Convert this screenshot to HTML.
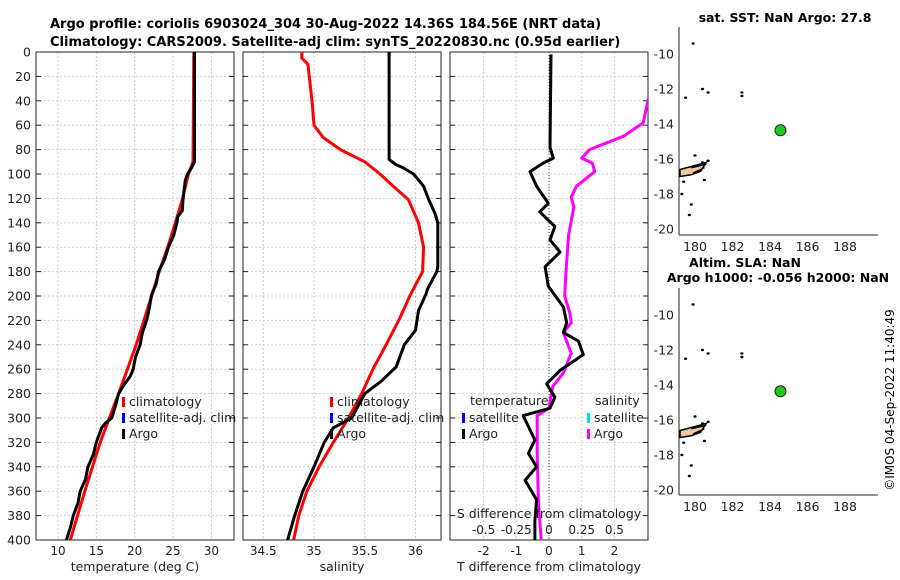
<!DOCTYPE html>
<html><head><meta charset="utf-8"><style>
body{margin:0;background:#fff}
svg{display:block;font-family:"DejaVu Sans","Liberation Sans",sans-serif}
</style></head><body>
<svg id="chart" width="900" height="580" viewBox="0 0 900 580" xmlns="http://www.w3.org/2000/svg">
<rect width="900" height="580" fill="#fff"/>
<text x="50" y="28" font-size="13" font-weight="bold">Argo profile: coriolis 6903024_304 30-Aug-2022 14.36S 184.56E (NRT data)</text>
<text x="50" y="46" font-size="13" font-weight="bold">Climatology: CARS2009. Satellite-adj clim: synTS_20220830.nc (0.95d earlier)</text>
<defs>
<clipPath id="c1"><rect x="36" y="52" width="198" height="488"/></clipPath>
<clipPath id="c2"><rect x="243" y="52" width="198" height="488"/></clipPath>
<clipPath id="c3"><rect x="450" y="52" width="198" height="488"/></clipPath>
</defs>
<g id="g"></g>
<text transform="translate(894,400) rotate(-90)" text-anchor="middle" font-size="12">©IMOS 04-Sep-2022 11:40:49</text>
</svg>
<script>
// ---- data ----
const depthTicks=[0,20,40,60,80,100,120,140,160,180,200,220,240,260,280,300,320,340,360,380,400];
const tempTicks=[10,15,20,25,30];
const salTicks=[34.5,35,35.5,36];
const tdiffTicks=[-2,-1,0,1,2];
const sdiffTickLabels=["-0.5","-0.25","0","0.25","0.5"];
const sdiffTicks=[-0.5,-0.25,0,0.25,0.5];
const argoTempDepth=[0,90,95,100,105,121,130,135,140,150,160,170,180,190,199,210,219,230,240,250,260,266,272,280,290,300,304,308,320,330,340,350,360,370,380,390,400];
const argoTemp=[27.8,27.8,27.4,26.9,26.6,26.3,26.2,25.6,25.5,25.1,24.4,23.9,23.1,22.8,22.2,21.9,21.6,21.0,20.7,20.1,19.8,19.4,18.7,17.9,17.5,17.0,16.2,15.7,15.0,14.6,13.9,13.6,12.9,12.6,12.0,11.6,11.1];
const climTempDepth=[0,90,100,121,140,160,180,200,240,280,320,360,400];
const climTemp=[27.7,27.6,27.0,26.2,25.3,24.3,23.2,22.2,20.2,17.9,15.5,13.5,11.6];
const argoSalDepth=[0,88,92,95,100,110,121,132,140,176,180,194,199,212,228,240,258,270,280,300,308,320,340,360,380,400];
const argoSal=[35.74,35.74,35.8,35.88,35.98,36.08,36.13,36.19,36.22,36.22,36.21,36.12,36.1,36.03,36.0,35.89,35.81,35.66,35.5,35.37,35.19,35.1,35.0,34.89,34.81,34.74];
const climSalDepth=[0,5,10,40,60,70,80,90,100,110,121,140,160,180,199,219,240,260,280,300,320,340,360,380,400];
const climSal=[34.88,34.88,34.94,34.98,35.0,35.09,35.26,35.5,35.65,35.78,35.93,36.03,36.08,36.07,35.95,35.84,35.71,35.58,35.47,35.34,35.19,35.05,34.93,34.85,34.8];
const tDiffDepth=[2,78,87,91,98,110,124,131,143,154,164,176,192,209,222,230,237,248,261,272,283,292,298,307,318,329,340,351,367,384,400];
const tDiff=[0.06,0.03,0.13,-0.17,-0.58,-0.38,-0.02,-0.28,0.18,0.03,0.34,-0.12,-0.02,0.44,0.54,0.44,0.9,1.05,0.34,-0.07,0.18,0.03,-0.79,-0.63,-0.43,-0.63,-0.38,-0.73,-0.38,-0.43,-0.43];
const sDiffDepth=[0,20,38,58,69,80,87,91,98,110,119,127,150,180,200,214,222,230,247,263,274,285,292,298,330,370,400];
const sDiff=[0.86,0.84,0.76,0.72,0.57,0.31,0.25,0.33,0.35,0.21,0.17,0.19,0.15,0.13,0.12,0.16,0.17,0.11,0.17,0.11,0.03,0.01,0,-0.09,-0.09,-0.08,-0.06];
const mapLatTicks=[-10,-12,-14,-16,-18,-20];
const mapLonTicks=[180,182,184,186,188];
const floatLon=184.56, floatLat=-14.36;
const islands=[[179.9,-9.4],[179.5,-12.5],[180.4,-12.0],[180.7,-12.2],[182.5,-12.4],[182.5,-12.2],[180.0,-15.8],[180.4,-16.2],[180.7,-16.1],[180.5,-17.2],[179.4,-17.3],[179.3,-18.0],[179.8,-18.6],[179.7,-19.2]];

// ---- scales ----
const NS="http://www.w3.org/2000/svg";
const G=document.getElementById('g');
function el(t,a,p){const e=document.createElementNS(NS,t);for(const k in a)e.setAttribute(k,a[k]);(p||G).appendChild(e);return e;}
const yD=d=>52+d*1.22;
const xT=v=>58+(v-10)*7.67;
const xS=v=>314+(v-35)*101.5;
const xD=v=>549+v*32.7;
const xSD=v=>549+v*130.8;
const lonX=l=>695+(l-180)*18.75;
const latY=(l,top)=>top+(-10-l)*17.5;

function panel(x0,ticks,xf,name,label){
  const g=el('g',{});
  
  
  depthTicks.forEach(d=>{const l=el('line',{x1:x0,x2:x0+198,y1:yD(d),y2:yD(d),stroke:'#c5cde6','stroke-dasharray':'2,2','stroke-width':1},g);
    
    el('line',{x1:x0,x2:x0+5,y1:yD(d),y2:yD(d),stroke:'#222'},g);el('line',{x1:x0+193,x2:x0+198,y1:yD(d),y2:yD(d),stroke:'#222'},g);});
  ticks.forEach(v=>{const l=el('line',{x1:xf(v),x2:xf(v),y1:52,y2:540,stroke:'#e0c9b8','stroke-dasharray':'2,2'},g);
    
    const t=el('text',{x:xf(v),y:555,'text-anchor':'middle','font-size':12,fill:'#222'},g);t.textContent=v;
    });
  el('rect',{x:x0,y:52,width:198,height:488,fill:'none',stroke:'#222','stroke-width':1},g);
  const t=el('text',{x:x0+99,y:571,'text-anchor':'middle','font-size':12.5,fill:'#222'},g);t.textContent=label;
  
  return g;
}
function line(xs,ds,xf,color,clip,name,w){
  const p=el('path',{d:xs.map((v,i)=>(i?'L':'M')+xf(v).toFixed(1)+','+yD(ds[i]).toFixed(1)).join(''),fill:'none',stroke:color,'stroke-width':w||3,'stroke-linejoin':'round','clip-path':'url(#'+clip+')'});
  
}
function legend(x,y,items){
  items.forEach((it,i)=>{el('rect',{x:x,y:y+i*16-9,width:3,height:10,fill:it[1]});
    const t=el('text',{x:x+7,y:y+i*16,'font-size':12.5,fill:'#222'});t.textContent=it[0];
    });
}
depthTicks.forEach(d=>{const t=el('text',{x:31,y:yD(d)+4.5,'text-anchor':'end','font-size':12.5,fill:'#222'});t.textContent=d;
  });

panel(36,tempTicks,xT,'temperature-panel','temperature (deg C)');
panel(243,salTicks,xS,'salinity-panel','salinity');
panel(450,tdiffTicks,xD,'difference-panel','T difference from climatology');
el('line',{x1:549,x2:549,y1:52,y2:540,stroke:'#335533','stroke-dasharray':'1,2'});

line(climTemp,climTempDepth,xT,'#ff0000','c1','temp-climatology-line');
line(argoTemp,argoTempDepth,xT,'#000','c1','temp-argo-line');
line(climSal,climSalDepth,xS,'#ff0000','c2','sal-climatology-line');
line(argoSal,argoSalDepth,xS,'#000','c2','sal-argo-line');
line(sDiff,sDiffDepth,xSD,'#ff00ff','c3','sdiff-argo-line');
line(tDiff,tDiffDepth,xD,'#000','c3','tdiff-argo-line');

legend(122,406,[['climatology','#ff0000'],['satellite-adj. clim','#0000ff'],['Argo','#000']]);
legend(330,406,[['climatology','#ff0000'],['satellite-adj. clim','#0000ff'],['Argo','#000']]);
{const t=el('text',{x:470,y:405,'font-size':12.5,fill:'#222'});t.textContent='temperature';}
{const t=el('text',{x:595,y:405,'font-size':12.5,fill:'#222'});t.textContent='salinity';}
legend(462,422,[['satellite','#0000ff'],['Argo','#000']]);
legend(587,422,[['satellite','#00e0e0'],['Argo','#ff00ff']]);
{const t=el('text',{x:549,y:518,'text-anchor':'middle','font-size':12.5,fill:'#222'});t.textContent='S difference from climatology';
 }
sdiffTicks.forEach((v,i)=>{const t=el('text',{x:xSD(v),y:534,'text-anchor':'middle','font-size':12,fill:'#222'});t.textContent=sdiffTickLabels[i];
  });

function map(top,bottomY,name){
  const g=el('g',{});
  
  el('line',{x1:679,x2:679,y1:top-27,y2:bottomY,stroke:'#222'},g);
  el('line',{x1:679,x2:878,y1:bottomY,y2:bottomY,stroke:'#222'},g);
  mapLatTicks.forEach(v=>{const t=el('text',{x:674,y:latY(v,top)+4.5,'text-anchor':'end','font-size':12.5,fill:'#222'},g);t.textContent=v;
    });
  mapLonTicks.forEach(v=>{const t=el('text',{x:lonX(v),y:bottomY+16,'text-anchor':'middle','font-size':12.5,fill:'#222'},g);t.textContent=v;
    });
  el('path',{d:`M680,${latY(-16.6,top)} L${lonX(180.6)},${latY(-16.2,top)} L${lonX(180.3)},${latY(-16.7,top)} L${lonX(179.8)},${latY(-16.9,top)} L680,${latY(-17.0,top)}Z`,fill:'#f2c8a0',stroke:'#000','stroke-width':1.5},g);
  el('path',{d:`M${lonX(179.8)},${latY(-16.5,top)} L${lonX(180.6)},${latY(-16.3,top)} M${lonX(179.9)},${latY(-16.8,top)} L${lonX(180.5)},${latY(-16.5,top)}`,stroke:'#000','stroke-width':1.5,fill:'none'},g);
  islands.forEach(p=>{const r=el('ellipse',{cx:lonX(p[0]),cy:latY(p[1],top),rx:1.6,ry:1.2,fill:'#000'},g);
    });
  const c=el('circle',{cx:lonX(floatLon),cy:latY(floatLat,top),r:5.5,fill:'#1ec81e',stroke:'#222','stroke-width':1},g);
  
}
map(54,235,'sst-map');
map(315,495,'sla-map');
{const t=el('text',{x:785,y:22,'text-anchor':'middle','font-size':12.5,'font-weight':'bold'});t.textContent='sat. SST: NaN Argo: 27.8';
 }
{const t=el('text',{x:745,y:267,'text-anchor':'middle','font-size':12.5,'font-weight':'bold'});t.textContent='Altim. SLA: NaN';
 }
{const t=el('text',{x:778,y:282,'text-anchor':'middle','font-size':12.5,'font-weight':'bold'});t.textContent='Argo h1000: -0.056 h2000: NaN';
 }
</script>
</body></html>
